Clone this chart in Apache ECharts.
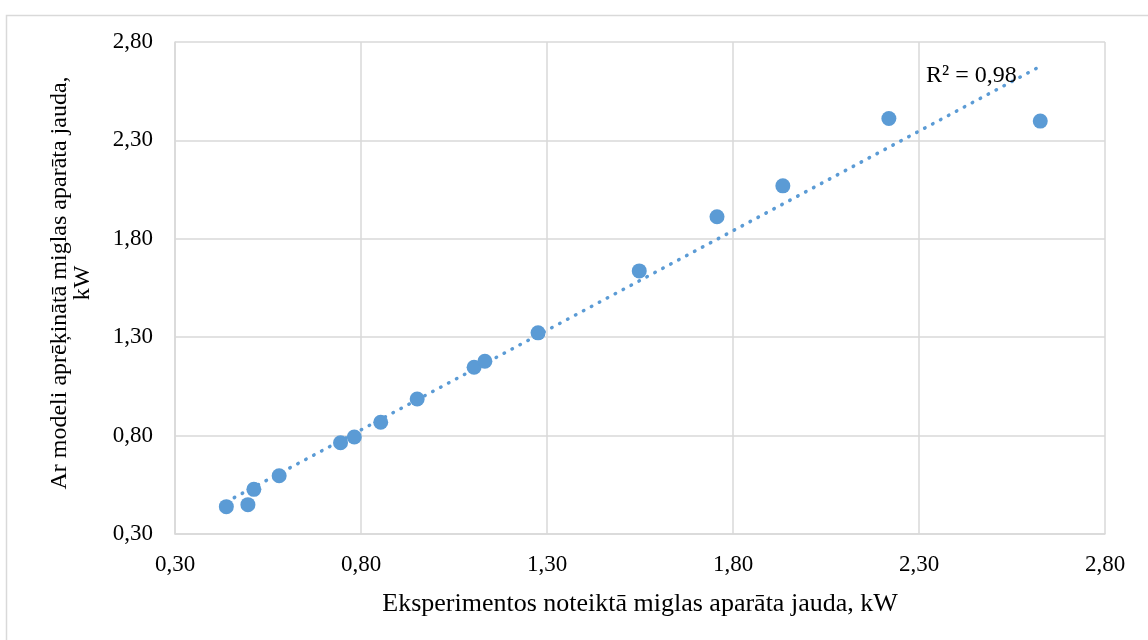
<!DOCTYPE html>
<html>
<head>
<meta charset="utf-8">
<script src="https://cdn.jsdelivr.net/npm/echarts@6/dist/echarts.min.js"></script>
<style>
  html, body { margin: 0; padding: 0; background: #fff; }
  #chart { width: 1148px; height: 640px; }
</style>
</head>
<body>
<div id="chart"></div>
<script>
// Measured (experiment) vs. modelled fog-machine power, kW
const measuredKW = [0.438, 0.496, 0.512, 0.580, 0.745, 0.782, 0.853, 0.951, 1.104, 1.133, 1.276, 1.548, 1.757, 1.934, 2.219, 2.626];
const modelKW    = [0.439, 0.449, 0.527, 0.596, 0.764, 0.793, 0.868, 0.986, 1.147, 1.178, 1.322, 1.637, 1.912, 2.069, 2.411, 2.398];
const axisTicks  = [0.30, 0.80, 1.30, 1.80, 2.30, 2.80];
const r2Label    = 'R² = 0,98';

const xTitle = 'Eksperimentos noteiktā miglas aparāta jauda, kW';
const yTitle = 'Ar modeli aprēķinātā miglas aparāta jauda,\nkW';

const points = measuredKW.map((x, i) => [x, modelKW[i]]);

// Least-squares linear trend over the data range
const n = points.length;
const mx = measuredKW.reduce((a, b) => a + b, 0) / n;
const my = modelKW.reduce((a, b) => a + b, 0) / n;
let sxy = 0, sxx = 0;
for (let i = 0; i < n; i++) {
  sxy += (measuredKW[i] - mx) * (modelKW[i] - my);
  sxx += (measuredKW[i] - mx) ** 2;
}
const slope = sxy / sxx;
const intercept = my - slope * mx;
const xMin = Math.min(...measuredKW), xMax = Math.max(...measuredKW);
const trend = [[xMin, intercept + slope * xMin], [xMax, intercept + slope * xMax]];

const fmt = v => v.toFixed(2).replace('.', ',');
const serif = '"Liberation Serif", "Times New Roman", serif';
const blue = '#5b9bd5';
const gridGrey = '#d9d9d9';

const chart = echarts.init(document.getElementById('chart'), null, { renderer: 'canvas' });
chart.setOption({
  animation: false,
  backgroundColor: '#fff',
  textStyle: { fontFamily: serif, color: '#000' },
  grid: { left: 175, right: 43, top: 42, bottom: 106 },
  xAxis: {
    type: 'value',
    min: axisTicks[0],
    max: axisTicks[axisTicks.length - 1],
    interval: 0.5,
    name: xTitle,
    nameLocation: 'middle',
    nameGap: 57,
    nameTextStyle: { fontFamily: serif, fontSize: 26, color: '#000' },
    axisLine: { show: true, lineStyle: { color: gridGrey, width: 1.5 } },
    axisTick: { show: false },
    axisLabel: { fontFamily: serif, fontSize: 23, color: '#000', margin: 19, formatter: fmt },
    splitLine: { show: true, lineStyle: { color: gridGrey, width: 1.5 } }
  },
  yAxis: {
    type: 'value',
    min: axisTicks[0],
    max: axisTicks[axisTicks.length - 1],
    interval: 0.5,
    name: yTitle,
    nameLocation: 'middle',
    nameRotate: 90,
    nameGap: 81,
    nameTextStyle: { fontFamily: serif, fontSize: 24, color: '#000', lineHeight: 23, padding: [0, 0, 0, 10] },
    axisLine: { show: true, lineStyle: { color: gridGrey, width: 1.5 } },
    axisTick: { show: false },
    axisLabel: { fontFamily: serif, fontSize: 23, color: '#000', margin: 22, formatter: fmt },
    splitLine: { show: true, lineStyle: { color: gridGrey, width: 1.5 } }
  },
  series: [
    {
      name: 'trend',
      type: 'line',
      data: trend,
      symbol: 'none',
      silent: true,
      z: 3,
      lineStyle: { color: blue, width: 3.5, type: [0.5, 8.5], cap: 'round' }
    },
    {
      name: 'data',
      type: 'scatter',
      data: points,
      symbol: 'circle',
      symbolSize: 15,
      z: 4,
      itemStyle: { color: blue, opacity: 1 }
    }
  ],
  graphic: [
    {
      type: 'rect',
      left: 4, top: 13,
      shape: { width: 1170, height: 660 },
      style: { fill: 'none', stroke: gridGrey, lineWidth: 1.5 },
      silent: true, z: -1
    },
    {
      type: 'text',
      left: 926, top: 64,
      style: { text: r2Label, font: '24px ' + serif, fill: '#000' },
      z: 10
    }
  ]
});
</script>
</body>
</html>
